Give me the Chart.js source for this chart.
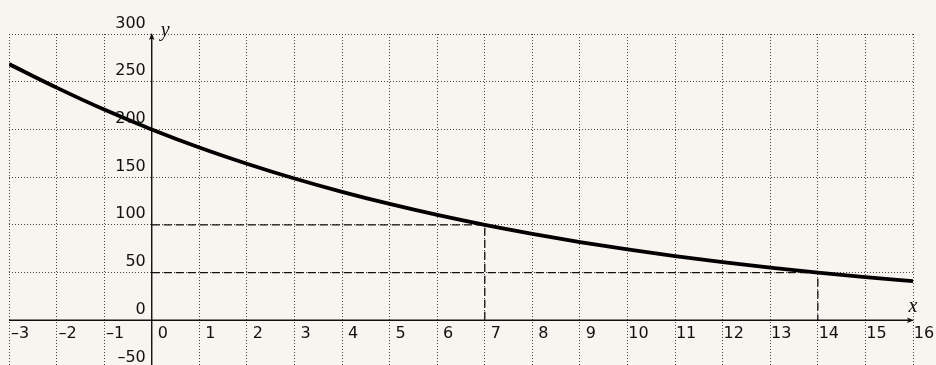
<!DOCTYPE html>
<html>
<head>
<meta charset="utf-8">
<script src="https://cdn.jsdelivr.net/npm/chart.js@4/dist/chart.umd.min.js"></script>
<style>
  html, body { margin: 0; padding: 0; background: #f8f4f0; }
  #wrap { width: 936px; height: 365px; overflow: hidden; position: relative; }
  canvas { display: block; }
</style>
</head>
<body>
<div id="wrap"><canvas id="c" width="936" height="372"></canvas></div>
<script>
// Decay curve sampled at whole x values
const xValues = [-3, -2, -1, 0, 1, 2, 3, 4, 5, 6, 7, 8, 9, 10, 11, 12, 13, 14, 15, 16];
const yValues = [268.5, 243.8, 220.8, 200, 181.1, 164.1, 148.6, 134.6, 121.9, 110.4, 100, 90.6, 82.0, 74.3, 67.3, 60.9, 55.2, 50, 45.3, 41.0];

// Guide lines: half value and quarter value
const halfX = [0, 7, 7];
const halfY = [100, 100, 0];
const quarterX = [0, 14, 14];
const quarterY = [50, 50, 0];

// Tick positions and labels
const xTicks = [-3, -2, -1, 0, 1, 2, 3, 4, 5, 6, 7, 8, 9, 10, 11, 12, 13, 14, 15, 16];
const xTickLabels = ['–3', '–2', '–1', '0', '1', '2', '3', '4', '5', '6', '7', '8', '9', '10', '11', '12', '13', '14', '15', '16'];
const yTicks = [-50, 0, 50, 100, 150, 200, 250, 300];
const yTickLabels = ['–50', '0', '50', '100', '150', '200', '250', '300'];

const toPoints = (xs, ys) => xs.map((x, i) => ({ x: x, y: ys[i] }));

const INK = '#111';
const LABEL_FONT = '16px "DejaVu Sans"';

const axesPlugin = {
  id: 'axesThroughOrigin',
  beforeDatasetsDraw(chart) {
    const { ctx, scales: { x, y } } = chart;
    const x0 = x.getPixelForValue(0);
    const y0 = y.getPixelForValue(0);
    const xMin = x.getPixelForValue(x.min), xMax = x.getPixelForValue(x.max);
    const yTop = y.getPixelForValue(y.max), yBot = y.getPixelForValue(y.min);
    ctx.save();
    ctx.strokeStyle = INK;
    ctx.fillStyle = INK;
    ctx.lineWidth = 1.4;
    // horizontal axis
    ctx.beginPath();
    ctx.moveTo(xMin, y0);
    ctx.lineTo(xMax - 3, y0);
    ctx.stroke();
    ctx.beginPath();
    ctx.moveTo(xMax + 1, y0);
    ctx.lineTo(xMax - 6, y0 - 2.8);
    ctx.lineTo(xMax - 4.5, y0);
    ctx.lineTo(xMax - 6, y0 + 2.8);
    ctx.closePath();
    ctx.fill();
    // vertical axis
    ctx.beginPath();
    ctx.moveTo(x0, yBot);
    ctx.lineTo(x0, yTop + 3);
    ctx.stroke();
    ctx.beginPath();
    ctx.moveTo(x0, yTop - 1);
    ctx.lineTo(x0 - 2.8, yTop + 6);
    ctx.lineTo(x0, yTop + 4.5);
    ctx.lineTo(x0 + 2.8, yTop + 6);
    ctx.closePath();
    ctx.fill();
    ctx.restore();
  },
  afterDraw(chart) {
    const { ctx, scales: { x, y } } = chart;
    const x0 = x.getPixelForValue(0);
    const y0 = y.getPixelForValue(0);
    ctx.save();
    ctx.fillStyle = INK;
    ctx.font = LABEL_FONT;
    ctx.textBaseline = 'alphabetic';
    // x tick labels, right of each grid line
    ctx.textAlign = 'center';
    xTicks.forEach((v, i) => {
      ctx.fillText(xTickLabels[i], x.getPixelForValue(v) + 11, y0 + 18);
    });
    // y tick labels, left of the vertical axis, above each grid line
    ctx.textAlign = 'right';
    yTicks.forEach((v, i) => {
      ctx.fillText(yTickLabels[i], x0 - 6, y.getPixelForValue(v) - 6.5);
    });
    // axis names
    ctx.font = 'italic 20px "Liberation Serif"';
    ctx.textAlign = 'left';
    ctx.fillText('y', x0 + 9, y.getPixelForValue(y.max) + 2);
    ctx.textAlign = 'center';
    ctx.fillText('x', x.getPixelForValue(x.max), y0 - 8);
    ctx.restore();
  }
};

const gridStyle = {
  color: '#444',
  lineWidth: 1,
  drawTicks: false
};

new Chart(document.getElementById('c'), {
  type: 'scatter',
  data: {
    datasets: [
      {
        data: toPoints(xValues, yValues),
        showLine: true,
        borderColor: '#000',
        borderWidth: 3.8,
        pointRadius: 0,
        cubicInterpolationMode: 'monotone',
        order: 1
      },
      {
        data: toPoints(halfX, halfY),
        showLine: true,
        borderColor: INK,
        borderWidth: 1.3,
        borderDash: [8, 4],
        pointRadius: 0,
        tension: 0,
        order: 2
      },
      {
        data: toPoints(quarterX, quarterY),
        showLine: true,
        borderColor: INK,
        borderWidth: 1.3,
        borderDash: [8, 4],
        pointRadius: 0,
        tension: 0,
        order: 2
      }
    ]
  },
  options: {
    responsive: false,
    devicePixelRatio: 1,
    animation: false,
    layout: { padding: { left: 9, right: 23, top: 34, bottom: 4 } },
    plugins: { legend: { display: false }, tooltip: { enabled: false } },
    scales: {
      x: {
        type: 'linear',
        min: -3,
        max: 16,
        ticks: { display: false, stepSize: 1 },
        grid: gridStyle,
        border: { display: false, dash: [1, 2] }
      },
      y: {
        type: 'linear',
        min: -50,
        max: 300,
        ticks: { display: false, stepSize: 50 },
        grid: gridStyle,
        border: { display: false, dash: [1, 2] }
      }
    }
  },
  plugins: [axesPlugin]
});
</script>
</body>
</html>
